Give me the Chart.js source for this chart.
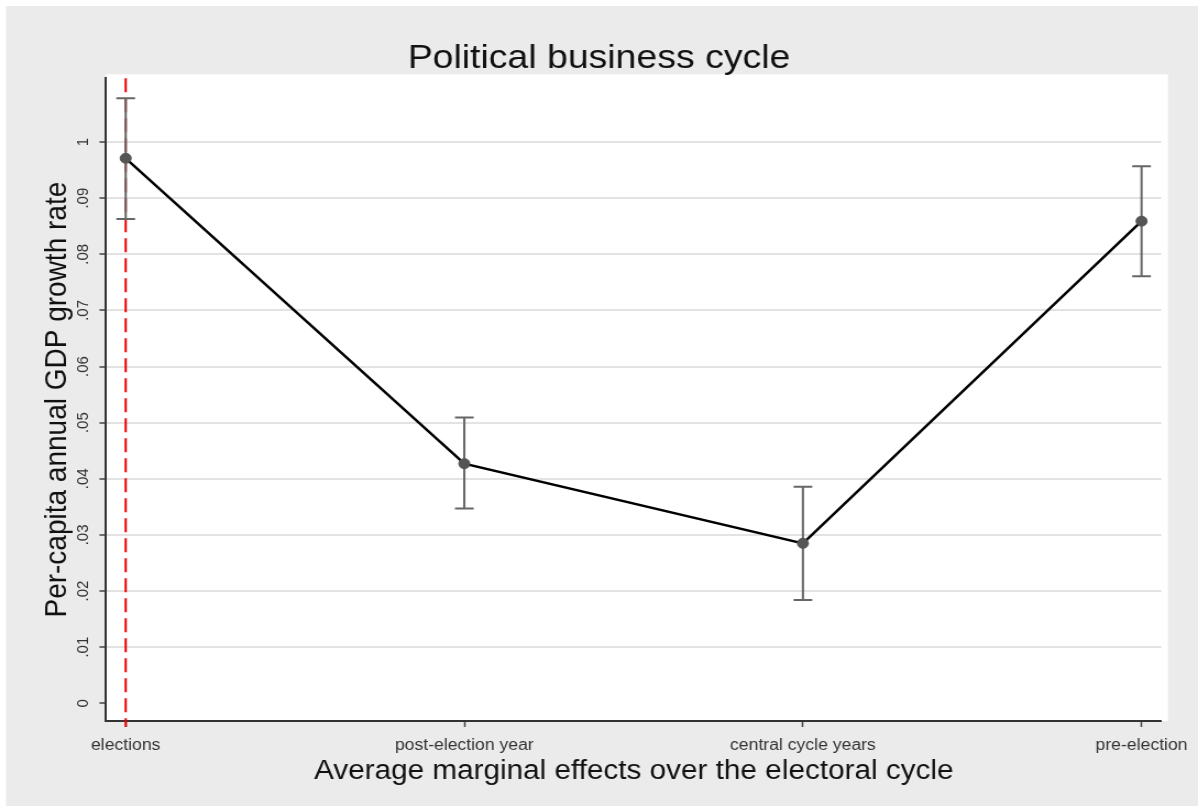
<!DOCTYPE html>
<html>
<head>
<meta charset="utf-8">
<title>Political business cycle</title>
<script src="https://cdn.jsdelivr.net/npm/chart.js@4.4.0/dist/chart.umd.min.js"></script>
<style>
  html, body { margin: 0; padding: 0; background: #fff; overflow: hidden; }
  #chart { display: block; }
</style>
</head>
<body>
<!-- canvas is drawn narrower and stretched wide, like the exported graph -->
<canvas id="chart" width="1089" height="809" style="width:1198px;height:809px"></canvas>
<script>
const FONT = '"Liberation Sans", Arial, Helvetica, sans-serif';

const titleText = 'Political business cycle';
const categories = ['elections', 'post-election year', 'central cycle years', 'pre-election'];

// average marginal effects and their confidence bands
const margins = [0.0971, 0.0427, 0.0285, 0.0859];
const ciLower = [0.0863, 0.0347, 0.0184, 0.0761];
const ciUpper = [0.1078, 0.0509, 0.0386, 0.0957];

const yTickValues = [0, 0.01, 0.02, 0.03, 0.04, 0.05, 0.06, 0.07, 0.08, 0.09, 0.1];
const yTickLabels = ['0', '.01', '.02', '.03', '.04', '.05', '.06', '.07', '.08', '.09', '1'];

// gray graph region, white plot region and the main title
const frameAndTitle = {
    id: 'frameAndTitle',
    beforeDraw(chart) {
        const { ctx, chartArea: a, width, height } = chart;
        ctx.save();
        ctx.fillStyle = '#ebebeb';
        ctx.fillRect(5.5, 6, width - 5.5, height - 9);
        ctx.fillStyle = '#ffffff';
        ctx.fillRect(a.left, a.top - 4, a.right - a.left + 6, a.bottom - a.top + 4);
        ctx.fillStyle = '#111';
        ctx.font = '34px ' + FONT;
        ctx.textAlign = 'center';
        ctx.textBaseline = 'alphabetic';
        ctx.fillText(titleText, width / 2, 68);
        ctx.restore();
    }
};

// dashed election marker and the confidence intervals, under the line
const bandsAndMarker = {
    id: 'bandsAndMarker',
    beforeDatasetsDraw(chart) {
        const { ctx, chartArea: a, scales: { x, y } } = chart;
        ctx.save();
        const ex = x.getPixelForValue(0);
        ctx.strokeStyle = '#f00000';
        ctx.lineWidth = 2;
        ctx.setLineDash([14, 6]);
        ctx.beginPath();
        ctx.moveTo(ex, a.top);
        ctx.lineTo(ex, a.bottom + 6);
        ctx.stroke();

        ctx.setLineDash([]);
        ctx.strokeStyle = '#666666';
        ctx.lineWidth = 2;
        const cap = 8.5;
        margins.forEach((m, i) => {
            const cx = x.getPixelForValue(i);
            const lo = y.getPixelForValue(ciLower[i]);
            const hi = y.getPixelForValue(ciUpper[i]);
            ctx.beginPath();
            ctx.moveTo(cx, lo);
            ctx.lineTo(cx, hi);
            ctx.moveTo(cx - cap, lo);
            ctx.lineTo(cx + cap, lo);
            ctx.moveTo(cx - cap, hi);
            ctx.lineTo(cx + cap, hi);
            ctx.stroke();
        });
        ctx.restore();
    }
};

const ctx = document.getElementById('chart').getContext('2d');
const chart = new Chart(ctx, {
    type: 'line',
    data: {
        datasets: [{
            data: margins.map((v, i) => ({ x: i, y: v })),
            borderColor: '#000000',
            borderWidth: 2.5,
            tension: 0,
            pointRadius: 5,
            pointBackgroundColor: '#555555',
            pointBorderColor: '#555555',
            pointBorderWidth: 1
        }]
    },
    options: {
        responsive: false,
        animation: false,
        devicePixelRatio: 1,
        layout: { padding: { left: 0, right: 28.5, top: 78.3, bottom: 0 } },
        plugins: {
            legend: { display: false },
            tooltip: { enabled: false }
        },
        scales: {
            x: {
                type: 'linear',
                min: -0.058,
                max: 3.0585,
                afterBuildTicks: s => { s.ticks = categories.map((c, i) => ({ value: i })); },
                afterFit: s => { s.height = 88; },
                ticks: {
                    callback: v => categories[v],
                    autoSkip: false,
                    maxRotation: 0,
                    padding: 9,
                    color: '#333',
                    font: { family: FONT, size: 16 }
                },
                grid: { drawOnChartArea: false, tickLength: 6, tickColor: '#444', tickWidth: 1.5 },
                border: { color: '#333', width: 2 },
                title: {
                    display: true,
                    text: 'Average marginal effects over the electoral cycle',
                    color: '#111',
                    font: { family: FONT, size: 27 },
                    padding: { top: 0, bottom: 21 }
                }
            },
            y: {
                type: 'linear',
                min: -0.00315,
                max: 0.11135,
                afterBuildTicks: s => { s.ticks = yTickValues.map(v => ({ value: v })); },
                afterFit: s => { s.width = 96.4; },
                ticks: {
                    callback: (v, i) => yTickLabels[i],
                    minRotation: 90,
                    maxRotation: 90,
                    crossAlign: 'center',
                    padding: 4.5,
                    color: '#333',
                    font: { family: FONT, size: 15 }
                },
                grid: {
                    color: c => (c.tick && c.tick.value === 0 ? 'rgba(0,0,0,0)' : '#e3e3e3'),
                    lineWidth: 2,
                    tickLength: 6,
                    tickColor: '#444',
                    tickWidth: 1.5
                },
                border: { color: '#333', width: 2 },
                title: {
                    display: true,
                    text: 'Per-capita annual GDP growth rate',
                    color: '#111',
                    font: { family: FONT, size: 28 },
                    padding: { top: 35.5, bottom: 0 }
                }
            }
        }
    },
    plugins: [frameAndTitle, bandsAndMarker]
});
</script>
</body>
</html>
